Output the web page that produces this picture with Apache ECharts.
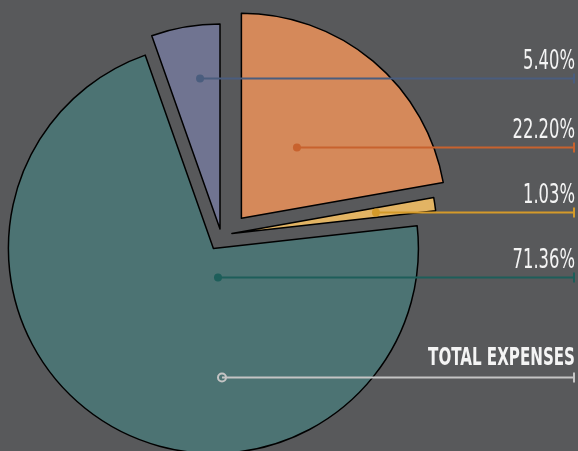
<!DOCTYPE html>
<html>
<head>
<meta charset="utf-8">
<script src="https://cdn.jsdelivr.net/npm/echarts@6/dist/echarts.min.js"></script>
<style>
  html, body { margin: 0; padding: 0; background: #58595b; }
  #chart { width: 578px; height: 451px; }
</style>
</head>
<body>
<div id="chart"></div>
<script>
// slices, clockwise from 12 o'clock
const categories = ['Expense B', 'Expense C', 'Expense D', 'Expense A'];
const shares = [22.20, 1.03, 71.36, 5.40];

// callout rows, top to bottom (index into the slices; -1 = total)
const calloutOrder = [3, 0, 1, 2, -1];
const totalLabel = 'TOTAL EXPENSES';

// styling / layout
const sliceColors = ['#d5895a', '#e2b464', '#4c7373', '#707491'];
const lineColors = ['#c8622e', '#d49a2a', '#1d5e5a', '#4a5d7e'];
const totalLineColor = '#c4c4c4';
// how far each slice is pulled away from the common centre (px)
const sliceShift = [[20.4, -16.7], [10.9, -1.6], [-7.6, 13.4], [-1, -5.9]];
// callout anchor inside the pie: angle (deg, clockwise from top) and radius fraction
const calloutAngle = [352.4, 40.8, 81.6, 184.1, 179.6];
const calloutRadius = [0.773, 0.567, 0.764, 0.205, 0.693];

const pieCenter = [221, 235];
const pieRadius = 205;
const textFont = '"DejaVu Sans Condensed", "Liberation Sans Narrow", sans-serif';

const chart = echarts.init(document.getElementById('chart'));

// one pie series per slice so every slice gets its own pull-out
const pieSeries = categories.map((_, i) => ({
  type: 'pie',
  center: [pieCenter[0] + sliceShift[i][0], pieCenter[1] + sliceShift[i][1]],
  radius: pieRadius,
  startAngle: 90,
  clockwise: true,
  silent: true,
  avoidLabelOverlap: false,
  label: { show: false },
  labelLine: { show: false },
  emphasis: { disabled: true },
  z: 2,
  data: shares.map((v, j) => ({
    name: categories[j],
    value: v,
    itemStyle: j === i
      ? { color: sliceColors[j], borderColor: '#000', borderWidth: 1.5 }
      : { color: 'rgba(0,0,0,0)', borderWidth: 0 }
  }))
}));

const calloutData = calloutOrder.map((idx, k) => ({
  value: [calloutRadius[k], calloutAngle[k]],
  text: idx < 0 ? totalLabel : shares[idx].toFixed(2) + '%',
  color: idx < 0 ? totalLineColor : lineColors[idx],
  isTotal: idx < 0
}));

const calloutSeries = {
  type: 'custom',
  coordinateSystem: 'polar',
  silent: true,
  z: 10,
  data: calloutData,
  renderItem(params, api) {
    const item = calloutData[params.dataIndex];
    const p = api.coord([api.value(0), api.value(1)]);
    const xEnd = api.getWidth() - 4;
    const y = Math.round(p[1]) + 0.5;
    return {
      type: 'group',
      children: [
        { type: 'line', shape: { x1: p[0], y1: y, x2: xEnd, y2: y },
          style: { stroke: item.color, lineWidth: 2 } },
        { type: 'line', shape: { x1: xEnd, y1: y - 5, x2: xEnd, y2: y + 5 },
          style: { stroke: item.color, lineWidth: 2 } },
        { type: 'circle', shape: { cx: p[0], cy: y, r: 4 },
          style: item.isTotal
            ? { fill: 'none', stroke: item.color, lineWidth: 2 }
            : { fill: item.color } },
        { type: 'text',
          x: xEnd + 1,
          y: item.isTotal ? y - 7 : y - 3.5,
          scaleX: 0.70,
          style: {
            x: 0,
            y: 0,
            text: item.text,
            align: 'right',
            verticalAlign: 'bottom',
            fill: '#f4f4f4',
            font: item.isTotal ? 'bold 24px ' + textFont : '26px ' + textFont
          } }
      ]
    };
  }
};

chart.setOption({
  backgroundColor: '#58595b',
  animation: false,
  polar: { center: pieCenter, radius: pieRadius },
  angleAxis: { type: 'value', min: 0, max: 360, startAngle: 90, clockwise: true, show: false },
  radiusAxis: { type: 'value', min: 0, max: 1, show: false },
  series: [...pieSeries, calloutSeries]
});
</script>
</body>
</html>
